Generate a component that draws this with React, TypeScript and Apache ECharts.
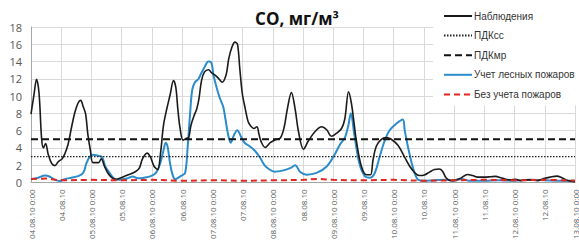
import React, { useEffect, useRef } from "react";
import * as echarts from "echarts";

// x values are hours since 04.08.10 0:00
const tickLabels = [
  "04.08.10 0:00", "04.08.10", "05.08.10 0:00", "05.08.10", "06.08.10 0:00", "06.08.10",
  "07.08.10 0:00", "07.08.10", "08.08.10 0:00", "08.08.10", "09.08.10 0:00", "09.08.10",
  "10.08.10 0:00", "10.08.10", "11.08.10 0:00", "11.08.10", "12.08.10 0:00", "12.08.10",
  "13.08.10 0:00",
];

const seriesNames = ["Наблюдения", "ПДКсс", "ПДКмр", "Учет лесных пожаров", "Без учета пожаров"];

const obsHours = [
  0, 1.2, 2.2, 3.2, 4.2, 4.9, 5.8, 6.8, 8.2, 9.5, 10.8, 12.4, 13.4, 14.7, 16, 17.4, 18.7, 19.7, 20.7, 21.7,
  22.6, 23.6, 24.6, 26.8, 27.9, 29.2, 30.5, 32.1, 33.8, 35.8, 37.8, 39.7, 41.7, 43, 44.3, 46.1, 47.4, 48.9,
  50.3, 51.4, 52.6, 53.9, 55.2, 56.6, 57.5, 58.3, 59.2, 60.4, 61.6, 62.6, 63.5, 64.7, 65.8, 66.7, 67.7, 68.9,
  70.5, 71.7, 73.2, 74.6, 75.9, 77.5, 78.5, 79.7, 81, 82, 82.9, 83.9, 85.1, 86.2, 87.3, 88.5, 89.7, 90.5,
  91.4, 93, 95, 97, 99, 100.6, 101.6, 103.4, 104.9, 106.2, 108.2, 110.1, 112.8, 115.4, 117.4, 119.3, 121.3,
  123.3, 124.6, 126.1, 127.2, 128.3, 129.2, 131.2, 133.2, 134.8, 135.8, 137.1, 139.1, 141.1, 143, 145.7,
  148.3, 150.3, 152.3, 154.2, 156.2, 158.2, 160.2, 162.1, 163.4, 164.8, 166.8, 168.7, 170.7, 173.3, 175.3,
  177.3, 180, 182.5, 184.5, 186.5, 188.5, 190.4, 192.4, 194.4, 196.3, 198.3, 201, 203.6, 206.2, 208.8,
  210.8, 212.8, 215.5, 216,
];
const obsValues = [
  7.9, 10.2, 11.95, 10.3, 5.1, 4.0, 4.5, 3.3, 2.2, 1.95, 2.4, 2.75, 3.3, 4.4, 6.25, 8.1, 9.2, 9.5, 8.8, 7.9,
  5.5, 3.7, 2.3, 2.3, 2.75, 1.85, 1.1, 0.55, 0.37, 0.55, 0.8, 1.0, 1.3, 1.65, 2.75, 3.4, 2.95, 1.85,
  1.5, 3.3, 6.6, 8.5, 10.1, 11.8, 11.0, 8.5, 6.25, 4.9, 5.1, 5.2, 6.6, 7.7, 8.5, 9.7, 11.8, 12.8,
  13.05, 12.7, 12.4, 12.0, 11.6, 12.5, 14.3, 15.6, 16.25, 16.0, 13.2, 10.3, 8.5, 7.05, 6.5, 6.25, 6.45, 5.6,
  4.7, 4.05, 4.6, 4.95, 5.15, 6.5, 8.2, 10.4, 8.45, 5.9, 3.85, 4.8, 5.9, 6.45, 6.1, 5.35, 5.7,
  6.25, 7.35, 10.5, 9.2, 6.8, 4.8, 1.85, 0.9, 0.9, 2.6, 4.2, 5.0, 5.2, 5.0, 4.3,
  2.95, 1.9, 1.15, 0.8, 0.87, 1.2, 1.5, 1.55, 1.3, 0.55, 0.2, 0.3, 0.5, 0.92, 0.8,
  0.62, 0.62, 0.66, 0.7, 0.55, 0.37, 0.3, 0.37, 0.2, 0.3, 0.3, 0.2, 0.45, 0.62, 0.73,
  0.55, 0.26, 0.1, 0.1,
];

const fireHours = [
  0, 2.9, 5.5, 7.5, 9.5, 11.4, 13.4, 16, 18.7, 20.7, 22, 23.3, 24.6, 26.6, 28.2, 29.5, 31.2, 32.9, 34.5,
  36.4, 38.4, 40.4, 42.4, 45, 47.6, 49.6, 51.3, 52.6, 53.5, 54.3, 55.2, 56.2, 57.2, 58.5, 59.8, 61.2, 62.2,
  63.1, 64, 65.1, 66.4, 67.7, 69, 70.4, 71.6, 72.4, 73.7, 75, 76.3, 77.2, 78.3, 79.3, 80.6, 81.9, 83.3,
  84.8, 86.8, 88.8, 90.8, 92.7, 94.7, 96.7, 100.3, 102.9, 104.9, 106.9, 109.5, 113.4, 117.4, 120.7, 122.7,
  124.6, 126, 127, 128.4, 130.4, 132.5, 134.5, 136.5, 138.4, 140.4, 142.4, 145, 147.6, 148.4, 150.3, 152.3,
  153.8, 156, 160, 165, 168, 171, 174, 180, 186, 192, 198, 204, 210, 216,
];
const fireValues = [
  0.37, 0.55, 0.8, 0.66, 0.3, 0.18, 0.37, 0.55, 0.73, 1.1, 2.2, 2.95, 3.2, 3.1, 2.95, 1.85, 1.1, 0.45, 0.3,
  0.37, 0.48, 0.7, 0.48, 0.55, 0.73, 1.1, 2.2, 3.7, 4.6, 4.05, 2.2, 0.9, 0.37, 0.55, 0.8, 1.1, 4.05,
  7.7, 10.7, 11.6, 11.95, 12.7, 13.4, 14.0, 13.9, 12.5, 11.0, 9.75, 8.8, 7.35, 5.5, 4.6, 5.5, 6.05, 5.35,
  4.6, 4.2, 3.7, 2.95, 2.0, 1.5, 1.25, 1.4, 1.65, 2.0, 1.2, 0.9, 1.1, 1.85, 3.3, 4.4,
  5.15, 6.6, 8.0, 5.5, 2.2, 0.75, 0.55, 1.1, 2.95, 4.8, 6.05, 6.8, 7.3, 6.0, 3.3, 1.1,
  0.3, 0.2, 0.25, 0.3, 0.2, 0.4, 0.2, 0.2, 0.25, 0.2, 0.3, 0.25, 0.2, 0.2,
];

const noFireHours = [0, 6, 12, 24, 36, 48, 60, 72, 84, 96, 108, 114, 120, 132, 144, 156, 168, 180, 192, 204, 216];
const noFireValues = [0.4, 0.45, 0.25, 0.3, 0.25, 0.3, 0.2, 0.25, 0.2, 0.25, 0.3, 0.4, 0.3, 0.25, 0.3, 0.2, 0.25, 0.3, 0.25, 0.3, 0.2];

const pdkSS = 3;
const pdkMR = 5;
const xMax = 216;

const pairs = (xs: number[], ys: number[]) => xs.map((x, i) => [x, ys[i]]);

export default function App() {
  const ref = useRef<HTMLDivElement>(null);
  useEffect(() => {
    if (!ref.current) return;
    const chart = echarts.init(ref.current, null, { renderer: "svg" });
    const font = "'Open Sans', 'Noto Sans', sans-serif";
    chart.setOption({
      animation: false,
      textStyle: { fontFamily: font },
      title: {
        text: "CO, мг/м³",
        left: 292,
        textAlign: "center",
        top: 5,
        textStyle: { fontSize: 17, fontWeight: "bold", color: "#111", fontFamily: font },
      },
      legend: {
        orient: "vertical",
        left: 433,
        top: 0,
        padding: [11, 2, 6, 10],
        backgroundColor: "#ffffff",
        itemWidth: 28,
        itemHeight: 10,
        itemGap: 9.6,
        data: seriesNames,
        itemStyle: { opacity: 0 },
        textStyle: {
          fontSize: 10,
          color: "#333",
          fontFamily: "'Liberation Sans', Arial, sans-serif",
          padding: [0, 0, 0, -3],
        },
      },
      grid: { left: 31, right: 1, top: 27, bottom: 52, containLabel: false },
      xAxis: {
        type: "value",
        min: 0,
        max: xMax,
        interval: 12,
        axisLine: { show: true, lineStyle: { color: "#a6a6a6" } },
        axisTick: { show: false },
        splitLine: { show: true, lineStyle: { color: "#d9d9d9", width: 1 } },
        axisLabel: {
          rotate: 90,
          fontSize: 8,
          color: "#555",
          margin: 7,
          showMaxLabel: true,
          formatter: (v: number) => tickLabels[Math.round(v / 12)] ?? "",
        },
      },
      yAxis: {
        type: "value",
        min: 0,
        max: 18,
        interval: 2,
        axisLine: { show: true, lineStyle: { color: "#a6a6a6" } },
        axisTick: { show: false },
        splitLine: { show: true, lineStyle: { color: "#d9d9d9", width: 1 } },
        axisLabel: { fontSize: 11, color: "#555", margin: 9 },
      },
      series: [
        {
          name: seriesNames[0],
          type: "line",
          data: pairs(obsHours, obsValues),
          showSymbol: false,
          symbol: "none",
          smooth: 0.35,
          lineStyle: { color: "#1a1a1a", width: 1.6 },
          itemStyle: { color: "#1a1a1a" },
          z: 3,
        },
        {
          name: seriesNames[3],
          type: "line",
          data: pairs(fireHours, fireValues),
          showSymbol: false,
          symbol: "none",
          smooth: 0.35,
          lineStyle: { color: "#2b8ccb", width: 2 },
          itemStyle: { color: "#2b8ccb" },
          z: 2,
        },
        {
          name: seriesNames[1],
          type: "line",
          data: [[0, pdkSS], [xMax, pdkSS]],
          showSymbol: false,
          symbol: "none",
          lineStyle: { color: "#222", width: 1.3, type: [1.5, 1.5] },
          itemStyle: { color: "#222" },
          z: 4,
        },
        {
          name: seriesNames[2],
          type: "line",
          data: [[0, pdkMR], [xMax, pdkMR]],
          showSymbol: false,
          symbol: "none",
          lineStyle: { color: "#111", width: 2, type: [7, 4] },
          itemStyle: { color: "#111" },
          z: 4,
        },
        {
          name: seriesNames[4],
          type: "line",
          data: pairs(noFireHours, noFireValues),
          showSymbol: false,
          symbol: "none",
          smooth: 0.35,
          lineStyle: { color: "#e3261f", width: 2, type: [6, 4] },
          itemStyle: { color: "#e3261f" },
          z: 5,
        },
      ],
    });
    return () => chart.dispose();
  }, []);
  return (
    <div
      ref={ref}
      style={{ position: "fixed", left: 0, top: 0, width: 579, height: 242, background: "#fff" }}
    />
  );
}
